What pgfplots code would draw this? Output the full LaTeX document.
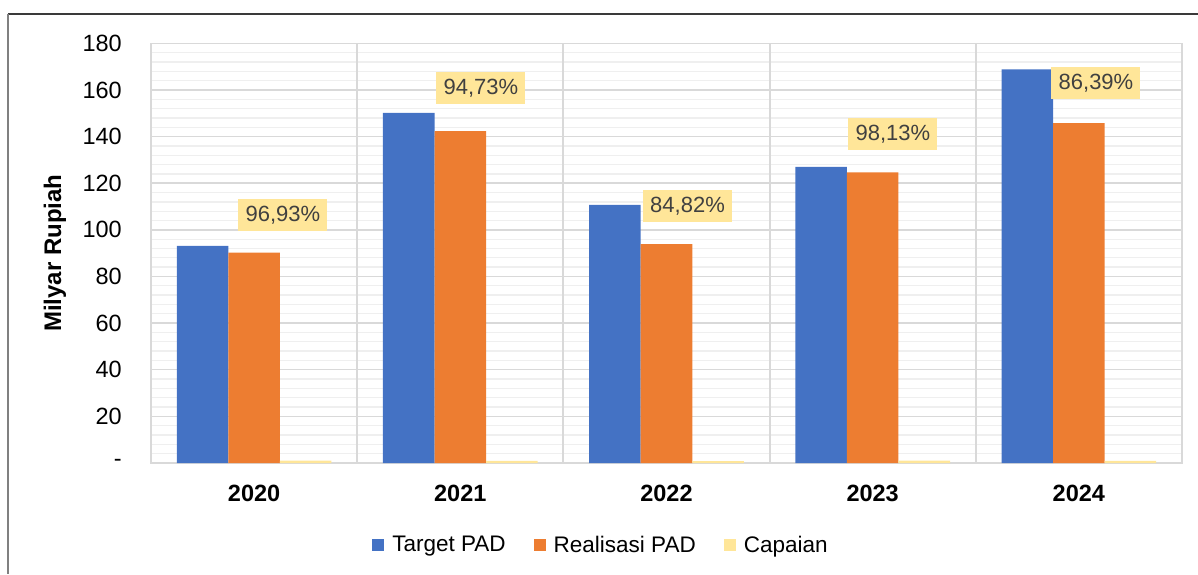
\documentclass[border=0pt]{standalone}
\usepackage{fontspec}
\setmainfont{Liberation Sans}
\usepackage{pgfplots}
\pgfplotsset{compat=1.18}
\definecolor{cblue}{HTML}{4472C4}
\definecolor{corange}{HTML}{ED7D31}
\definecolor{cyellow}{HTML}{FFE699}
\definecolor{majgrid}{HTML}{D9D9D9}
\definecolor{mingrid}{HTML}{EFEFEF}
\definecolor{lbl}{HTML}{404040}
\definecolor{frametop}{HTML}{3A3A3A}
\definecolor{frameleft}{HTML}{808080}
\begin{document}
\begin{tikzpicture}
\path[use as bounding box] (-151pt,-111pt) rectangle (1047pt,463pt);
\begin{axis}[
 at={(0pt,0pt)}, anchor=south west,
 scale only axis, width=1031pt, height=419.7pt,
 xmin=-0.5, xmax=4.5, ymin=0, ymax=180,
 ybar, bar width=0.25,
 xtick={0,1,2,3,4}, xticklabels={2020,2021,2022,2023,2024},
 ytick={0,20,...,180}, yticklabels={-,20,40,60,80,100,120,140,160,180},
 minor y tick num=4,
 ymajorgrids, yminorgrids,
 major grid style={majgrid, line width=1.5pt},
 minor grid style={mingrid, line width=1.3pt},
 extra x ticks={0.5,1.5,2.5,3.5},
 extra x tick labels={},
 extra x tick style={grid=major, major grid style={majgrid,line width=2pt}},
 major tick length=0pt, minor tick length=0pt,
 axis line style={majgrid, line width=1.5pt},
 /pgf/number format/assume math mode=true,
 tick label style={font=\fontsize{23.5}{27}\selectfont, black},
 xticklabel style={font=\fontsize{23.5}{27}\selectfont\bfseries, anchor=north, inner sep=0pt, yshift=-22pt},
 yticklabel style={anchor=east, inner sep=0pt, xshift=-29pt},
 ylabel={Milyar Rupiah},
 ylabel style={font=\fontsize{24}{28}\selectfont\bfseries, at={(axis description cs:-0.0931,0.5)}, anchor=center},
 legend columns=3,
 legend style={draw=none, fill=none, at={(axis description cs:0.4355,-0.195)}, anchor=center,
   font=\fontsize{22.5}{26}\selectfont,
   /tikz/every odd column/.append style={column sep=8pt},
   /tikz/every even column/.append style={column sep=28pt},
   nodes={inner sep=0pt}},
 legend image code/.code={\fill[#1,draw=none] (0pt,-6pt) rectangle (12pt,6pt);},
 clip=false,
]
\addplot[fill=cblue, draw=none, bar shift=-0.25] coordinates {(0,93.1) (1,150.2) (2,110.7) (3,127.0) (4,168.8)};
\addplot[fill=corange, draw=none, bar shift=0] coordinates {(0,90.2) (1,142.3) (2,93.9) (3,124.6) (4,145.8)};
\addplot[fill=cyellow, draw=none, bar shift=0.25] coordinates {(0,0.9693) (1,0.9473) (2,0.8482) (3,0.9813) (4,0.8639)};
\legend{Target PAD, Realisasi PAD, Capaian}
\tikzset{dl/.style={fill=cyellow, text=lbl, font=\fontsize{22}{26}\selectfont, minimum width=89pt, minimum height=32pt, inner sep=0pt, anchor=center}}
\node[dl] at (axis cs:0.140,106.3) {96,93\%};
\node[dl] at (axis cs:1.100,160.8) {94,73\%};
\node[dl] at (axis cs:2.102,110.2) {84,82\%};
\node[dl] at (axis cs:3.098,141.1) {98,13\%};
\node[dl] at (axis cs:4.083,162.9) {86,39\%};
\end{axis}
\draw[frametop, line width=1.5pt] (-143pt,449pt) -- (1047pt,449pt);
\draw[frameleft, line width=2pt] (-143pt,449pt) -- (-143pt,-111pt);
\end{tikzpicture}
\end{document}
